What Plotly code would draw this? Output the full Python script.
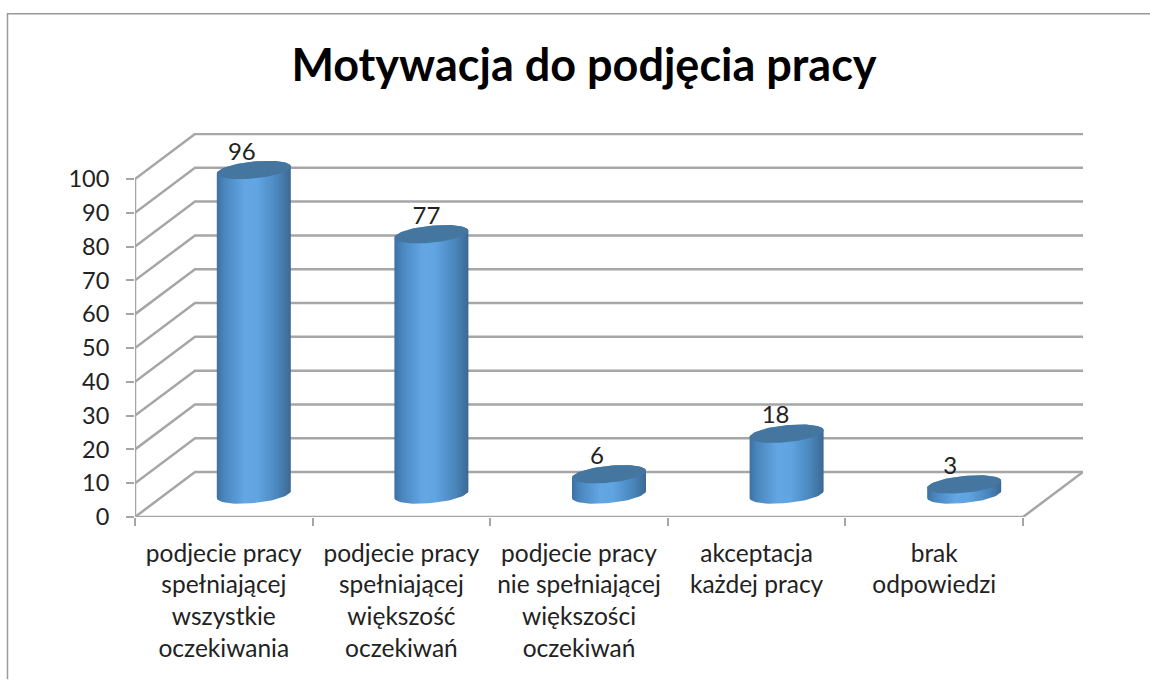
import math
import plotly.graph_objects as go

# --- data ---
title = "Motywacja do podjęcia pracy"
categories = [
    "podjecie pracy<br>spełniającej<br>wszystkie<br>oczekiwania",
    "podjecie pracy<br>spełniającej<br>większość<br>oczekiwań",
    "podjecie pracy<br>nie spełniającej<br>większości<br>oczekiwań",
    "akceptacja<br>każdej pracy",
    "brak<br>odpowiedzi",
]
values = [96, 77, 6, 18, 3]
y_ticks = [0, 10, 20, 30, 40, 50, 60, 70, 80, 90, 100]

# --- layout constants (pixels) ---
W, H = 1150, 680
LEFT, BOTTOM = 135, 517.5
PX_PER_CAT = 177.6
PX_PER_UNIT = 3.385
DEPTH_X_PX, DEPTH_Y_PX = 60, 45
TOP = 133
RIGHT = LEFT + 5 * PX_PER_CAT + DEPTH_X_PX
RX_PX, RY_PX, SHEAR_PX = 37, 8.5, 3.5
LABEL_NUDGE_X_PX = [-12, -5, -12, -11, -14]
LABEL_NUDGE_Y_PX = 16.5
GRID = "#a6a6a6"
TEXT = "#222222"
FONT = "Lato, 'Open Sans', sans-serif"

dx = DEPTH_X_PX / PX_PER_CAT
dy = DEPTH_Y_PX / PX_PER_UNIT
n = len(categories)
fig = go.Figure()

# walls and floor
for v in y_ticks:
    fig.add_trace(go.Scatter(x=[0, dx, n + dx], y=[v, v + dy, v + dy], mode="lines",
                             line=dict(color=GRID, width=2.5), hoverinfo="skip",
                             showlegend=False, cliponaxis=False))
fig.add_trace(go.Scatter(x=[0, 0], y=[y_ticks[0], y_ticks[-1]], mode="lines",
                         line=dict(color=GRID, width=2.5), hoverinfo="skip",
                         showlegend=False, cliponaxis=False))
fig.add_trace(go.Scatter(x=[0, n, n + dx], y=[0, 0, dy], mode="lines",
                         line=dict(color=GRID, width=2.5), hoverinfo="skip",
                         showlegend=False, cliponaxis=False))

rx = RX_PX / PX_PER_CAT
ry = RY_PX / PX_PER_UNIT
sh = SHEAR_PX / PX_PER_UNIT
steps = list(range(0, 73))


def ellipse(cx, cy, t):
    return cx + rx * math.cos(t), cy + ry * math.sin(t) + sh * math.cos(t)


gradient = dict(type="horizontal", colorscale=[
    [0, "#3d70a2"], [0.10, "#4a86bd"], [0.38, "#62a6e4"], [0.55, "#60a4e1"],
    [0.82, "#4a86bd"], [0.95, "#40719e"], [1, "#3c6891"]])

for i, val in enumerate(values):
    cx = i + 0.5 + dx / 2
    base = dy / 2
    top = base + val
    # body: top half edge going one way, bottom front edge back
    xs, ys = [], []
    for k in range(0, 37):
        t = math.pi * k / 36  # right -> left through upper screen side of top
        px_, py_ = ellipse(cx, top, t)
        xs.append(px_)
        ys.append(py_)
    for k in range(0, 37):
        t = math.pi + math.pi * k / 36  # left -> right through lower front of base
        px_, py_ = ellipse(cx, base, t)
        xs.append(px_)
        ys.append(py_)
    fig.add_trace(go.Scatter(x=xs + xs[:1], y=ys + ys[:1], mode="lines", fill="toself",
                             fillgradient=gradient, line=dict(width=0),
                             hoverinfo="skip", showlegend=False, cliponaxis=False))
    ex, ey = zip(*(ellipse(cx, top, 2 * math.pi * k / 72) for k in steps))
    fig.add_trace(go.Scatter(x=list(ex), y=list(ey), mode="lines", fill="toself",
                             fillcolor="#44769f", line=dict(width=0, color="#44769f"),
                             hoverinfo="skip", showlegend=False, cliponaxis=False))

# data labels
fig.add_trace(go.Scatter(
    x=[i + 0.5 + dx / 2 + LABEL_NUDGE_X_PX[i] / PX_PER_CAT for i in range(n)],
    y=[dy / 2 + v + LABEL_NUDGE_Y_PX / PX_PER_UNIT for v in values],
    mode="text", text=[str(v) for v in values], textposition="middle center",
    textfont=dict(family=FONT, size=24, color=TEXT),
    hoverinfo="skip", showlegend=False, cliponaxis=False))

# outer frame, running off the top/right/bottom of the picture
def px(x):
    return (x - LEFT) / (RIGHT - LEFT)


def py(y):
    return (BOTTOM - y) / (BOTTOM - TOP)


fig.add_shape(type="path", xref="paper", yref="paper",
              path=f"M {px(7.5)} {py(H)} L {px(7.5)} {py(13.5)} L {px(W)} {py(13.5)}",
              line=dict(color="#9a9a9a", width=1.5))

fig.update_layout(
    width=W, height=H,
    margin=dict(l=LEFT, r=W - RIGHT, t=TOP, b=H - BOTTOM, autoexpand=False),
    paper_bgcolor="white", plot_bgcolor="white",
    showlegend=False,
    title=dict(text=f"<b>{title}</b>", x=584 / W, xref="container", xanchor="center",
               y=1 - 65 / H, yref="container", yanchor="middle",
               font=dict(family=FONT, size=45, color="black")),
    xaxis=dict(range=[0, n + dx], showgrid=False, zeroline=False, showline=False,
               tickmode="array", tickvals=[i + 0.5 for i in range(n)], ticktext=categories,
               ticks="", tickangle=0, ticklabelstandoff=19,
               tickfont=dict(family=FONT, size=24.5, color=TEXT),
               minor=dict(tickmode="array", tickvals=list(range(n + 1)), ticks="outside",
                          ticklen=8, tickcolor=GRID, tickwidth=2, showgrid=False)),
    yaxis=dict(range=[0, (BOTTOM - TOP) / PX_PER_UNIT], showgrid=False, zeroline=False,
               showline=False, tickmode="array", tickvals=y_ticks,
               ticks="outside", ticklen=8, tickcolor=GRID, tickwidth=2, ticklabelstandoff=12,
               tickfont=dict(family=FONT, size=23.5, color=TEXT)),
)

fig.write_html("out.html", post_script="document.body.style.margin='0';",
               config=dict(displayModeBar=False))
